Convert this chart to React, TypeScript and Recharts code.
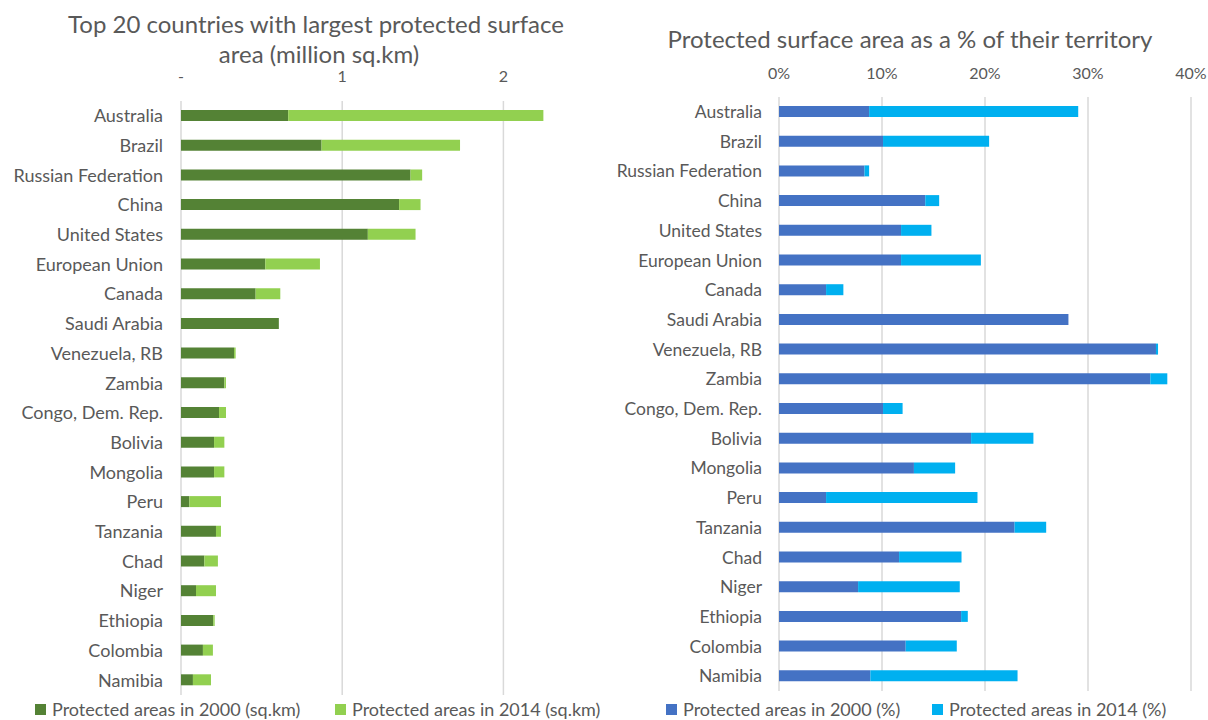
import React from 'react';
import { BarChart, Bar, XAxis, YAxis, CartesianGrid, Legend } from 'recharts';

const countries = [
  'Australia', 'Brazil', 'Russian Federation', 'China', 'United States',
  'European Union', 'Canada', 'Saudi Arabia', 'Venezuela, RB', 'Zambia',
  'Congo, Dem. Rep.', 'Bolivia', 'Mongolia', 'Peru', 'Tanzania',
  'Chad', 'Niger', 'Ethiopia', 'Colombia', 'Namibia',
];

// million sq.km
const area2000 = [
  0.665, 0.872, 1.424, 1.353, 1.159, 0.523, 0.463, 0.607, 0.329, 0.269,
  0.236, 0.205, 0.205, 0.052, 0.217, 0.145, 0.093, 0.200, 0.136, 0.074,
];
const area2014 = [
  2.248, 1.731, 1.496, 1.486, 1.455, 0.862, 0.616, 0.607, 0.339, 0.279,
  0.279, 0.269, 0.269, 0.248, 0.248, 0.229, 0.217, 0.209, 0.198, 0.186,
];

// % of territory
const pct2000 = [
  8.75, 10.1, 8.3, 14.2, 11.85, 11.85, 4.57, 28.1, 36.6, 36.05,
  10.1, 18.65, 13.1, 4.57, 22.87, 11.66, 7.68, 17.68, 12.3, 8.87,
];
const pct2014 = [
  29.05, 20.4, 8.75, 15.55, 14.8, 19.6, 6.25, 28.1, 36.8, 37.7,
  12.0, 24.7, 17.1, 19.27, 25.94, 17.72, 17.55, 18.33, 17.26, 23.16,
];

const areaTicks = [0, 1, 2];
const pctTicks = [0, 10, 20, 30, 40];

const TEXT = '#595959';
const GRID = '#d9d9d9';
const FONT = 'Lato, "Open Sans", sans-serif';

const areaData = countries.map((name, i) => ({
  name,
  base: area2000[i],
  inc: area2014[i] - area2000[i],
}));

const pctData = countries.map((name, i) => ({
  name,
  base: pct2000[i],
  inc: pct2014[i] - pct2000[i],
}));

const LegendRow = ({ items, itemWidth }: { items: { label: string; color: string }[]; itemWidth: number }) => (
  <div style={{ display: 'flex', fontFamily: FONT, fontSize: 18, color: TEXT, height: 18, lineHeight: '18px' }}>
    {items.map((it) => (
      <div key={it.label} style={{ display: 'flex', alignItems: 'center', width: itemWidth, whiteSpace: 'nowrap' }}>
        <span style={{ display: 'inline-block', width: 11, height: 11, background: it.color, marginRight: 6 }} />
        <span>{it.label}</span>
      </div>
    ))}
  </div>
);

const numTick = { fill: TEXT, fontSize: 16, fontFamily: FONT };

const titleLine = (top: number): React.CSSProperties => ({
  position: 'absolute',
  top,
  textAlign: 'center',
  fontSize: 24,
  lineHeight: '24px',
  color: TEXT,
  whiteSpace: 'nowrap',
});

export default function App() {
  return (
    <div style={{ position: 'absolute', left: 0, top: 0, width: 1208, height: 720, overflow: 'hidden', background: '#fff', fontFamily: FONT }}>
      <div style={{ ...titleLine(12), left: 0, width: 632 }}>Top 20 countries with largest protected surface</div>
      <div style={{ ...titleLine(42), left: 0, width: 638 }}>area (million sq.km)</div>
      <div style={{ ...titleLine(27), left: 610, width: 600 }}>Protected surface area as a % of their territory</div>

      <div style={{ position: 'absolute', left: 0, top: 0 }}>
        <BarChart width={600} height={720} layout="vertical" data={areaData} margin={{ top: 81, right: 16, bottom: 25, left: 0 }}>
          <CartesianGrid horizontal={false} stroke={GRID} strokeWidth={1.5} verticalValues={areaTicks} />
          <XAxis
            type="number"
            orientation="top"
            domain={[0, 2.5]}
            ticks={areaTicks}
            tickFormatter={(v: number) => (v === 0 ? '-' : String(v))}
            axisLine={false}
            tickLine={false}
            tickSize={0}
            tickMargin={19}
            height={20}
            tick={numTick}
          />
          <YAxis
            type="category"
            dataKey="name"
            width={181}
            axisLine={false}
            tickLine={false}
            tickSize={0}
            tickMargin={18}
            interval={0}
            tick={{ fill: TEXT, fontSize: 18, fontFamily: FONT }}
          />
          <Bar dataKey="base" stackId="a" fill="#548235" barSize={11} name="Protected areas in 2000 (sq.km)" isAnimationActive={false} />
          <Bar dataKey="inc" stackId="a" fill="#92D050" barSize={11} name="Protected areas in 2014 (sq.km)" isAnimationActive={false} />
          <Legend
            layout="horizontal"
            verticalAlign="middle"
            align="center"
            wrapperStyle={{ left: 35, top: 700, width: 600 }}
            content={() => (
              <LegendRow
                itemWidth={306}
                items={[
                  { label: 'Protected areas in 2000 (sq.km)', color: '#548235' },
                  { label: 'Protected areas in 2014 (sq.km)', color: '#92D050' },
                ]}
              />
            )}
          />
        </BarChart>
      </div>

      <div style={{ position: 'absolute', left: 600, top: 0 }}>
        <BarChart width={608} height={720} layout="vertical" data={pctData} margin={{ top: 77, right: 17, bottom: 29, left: 0 }}>
          <CartesianGrid horizontal={false} stroke={GRID} strokeWidth={1.5} verticalValues={pctTicks} />
          <XAxis
            type="number"
            orientation="top"
            domain={[0, 40]}
            ticks={pctTicks}
            tickFormatter={(v: number) => `${v}%`}
            axisLine={false}
            tickLine={false}
            tickSize={0}
            tickMargin={18}
            height={20}
            tick={numTick}
          />
          <YAxis
            type="category"
            dataKey="name"
            width={179}
            axisLine={false}
            tickLine={false}
            tickSize={0}
            tickMargin={17}
            interval={0}
            tick={{ fill: TEXT, fontSize: 17.5, fontFamily: FONT }}
          />
          <Bar dataKey="base" stackId="b" fill="#4472C4" barSize={11} name="Protected areas in 2000 (%)" isAnimationActive={false} />
          <Bar dataKey="inc" stackId="b" fill="#00B0F0" barSize={11} name="Protected areas in 2014 (%)" isAnimationActive={false} />
          <Legend
            layout="horizontal"
            verticalAlign="middle"
            align="center"
            wrapperStyle={{ left: 66, top: 700, width: 540 }}
            content={() => (
              <LegendRow
                itemWidth={266}
                items={[
                  { label: 'Protected areas in 2000 (%)', color: '#4472C4' },
                  { label: 'Protected areas in 2014 (%)', color: '#00B0F0' },
                ]}
              />
            )}
          />
        </BarChart>
      </div>
    </div>
  );
}
